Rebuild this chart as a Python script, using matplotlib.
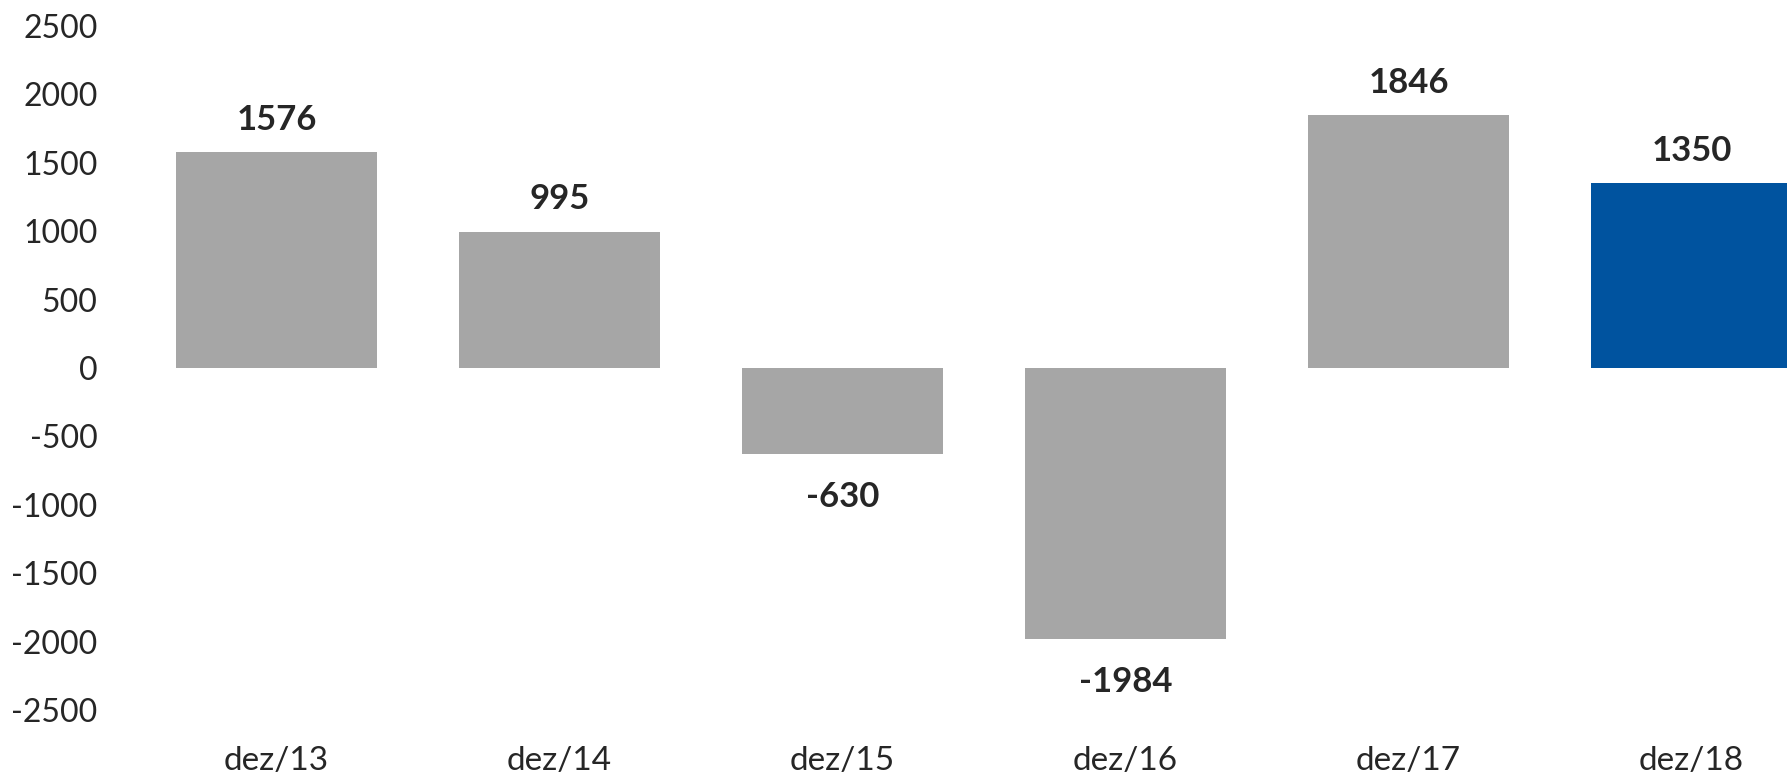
import matplotlib
matplotlib.use("Agg")
import matplotlib.pyplot as plt

categories = ["dez/13", "dez/14", "dez/15", "dez/16", "dez/17", "dez/18"]
values = [1576, 995, -630, -1984, 1846, 1350]
colors = ["#A6A6A6", "#A6A6A6", "#A6A6A6", "#A6A6A6", "#A6A6A6", "#00539F"]
yticks = [2500, 2000, 1500, 1000, 500, 0, -500, -1000, -1500, -2000, -2500]

W, H = 1787, 779
fig = plt.figure(figsize=(W / 100, H / 100), dpi=100)
left, right = 135, 1833
top, bottom = 26, 710
ax = fig.add_axes([left / W, (H - bottom) / H, (right - left) / W, (bottom - top) / H])

x = list(range(len(categories)))
ax.bar(x, values, width=0.71, color=colors, zorder=2)

ax.set_xlim(-0.5, len(categories) - 0.5)
ax.set_ylim(-2500, 2500)
ax.set_yticks(yticks)
ax.set_yticklabels([str(t) for t in yticks])
ax.set_xticks(x)
ax.set_xticklabels(categories)

for s in ax.spines.values():
    s.set_visible(False)
ax.tick_params(axis="both", length=0, labelsize=23, labelcolor="#262626")
ax.tick_params(axis="y", pad=27)
ax.tick_params(axis="x", pad=26, labelsize=24)
for lab in ax.get_xticklabels() + ax.get_yticklabels():
    lab.set_fontfamily("Lato")

for xi, v in zip(x, values):
    off = 23.5 if v >= 0 else -31
    ax.annotate(str(v), (xi, v), xytext=(0, off), textcoords="offset points",
                ha="center", va="center", fontsize=25, fontweight="bold",
                color="#262626", fontfamily="Lato")

fig.savefig("out.png", dpi=100)
